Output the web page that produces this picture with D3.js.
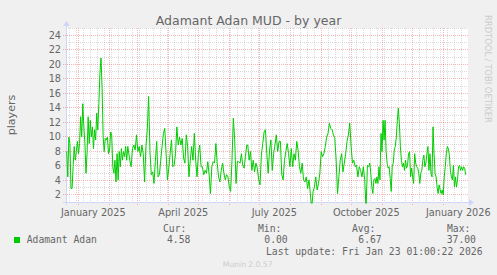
<!DOCTYPE html>
<html>
<head>
<meta charset="utf-8">
<script src="https://cdn.jsdelivr.net/npm/d3@7"></script>
<style>
  body { margin: 0; background: #f0f0f0; }
  text { fill: #666; }
</style>
</head>
<body>
<svg id="chart" width="497" height="275"></svg>
<script>
// players per day in four runs (start / end date of each run)
const segDates = [
  ["2024-12-20T10:00Z", "2025-02-19T12:00Z"],
  ["2025-02-21T12:00Z", "2025-06-18T12:00Z"],
  ["2025-06-19T12:00Z", "2025-10-18T12:00Z"],
  ["2025-10-19T12:00Z", "2026-01-23T09:00Z"]
];
const segA = [7.9,4.4,9.9,9.0,2.8,2.8,5.8,8.6,6.7,7.9,9.3,7.6,9.0,12.7,9.9,14.5,11.3,9.0,4.9,7.6,12.7,9.0,12.2,9.9,11.3,8.3,10.9,9.5,13.2,10.9,14.5,18.7,20.8,16.8,9.9,7.9,9.7,9.5,9.9,7.6,8.1,10.6,10.2,5.8,4.9,6.7,3.7,7.6,4.0,7.9,5.8,8.3,6.7,7.9,7.2,8.6,6.7,8.6];
const segB = [6.7,5.8,8.3,8.8,8.1,10.2,7.9,8.6,7.2,8.8,7.6,3.7,8.6,10.9,15.5,7.9,4.7,5.1,3.5,6.5,9.3,4.4,4.7,6.7,8.6,10.4,11.1,7.6,4.0,5.6,7.6,9.5,5.8,6.0,7.6,11.3,8.8,9.9,8.8,9.7,7.0,6.3,10.2,8.6,4.4,6.7,8.6,6.7,10.4,6.7,4.4,7.6,8.8,5.8,5.8,4.7,5.3,4.9,6.5,4.7,2.1,5.8,6.5,6.3,9.0,6.3,4.4,3.7,5.3,6.3,4.9,4.0,4.7,4.4,3.0,2.4,6.7,12.5,9.5,3.5,6.5,6.5,6.3,7.6,6.0,5.6,7.2,8.8];
const segC = [8.8,6.7,7.9,5.3,6.7,5.1,6.3,5.6,4.0,3.3,7.4,9.0,10.6,10.9,7.6,4.9,8.1,9.5,5.3,7.6,8.8,10.2,7.9,9.3,9.3,4.7,4.0,6.7,7.9,9.0,7.6,5.8,8.3,5.8,7.6,6.7,9.3,8.1,5.8,4.9,6.3,4.0,3.7,4.4,2.8,4.0,2.1,0,2.4,3.0,4.4,2.6,3.5,4.9,7.9,7.2,7.6,8.6,9.9,10.4,11.8,11.1,10.9,10.2,9.7,6.7,2.1,4.4,6.7,7.6,5.1,6.3,7.6,9.3,10.2,11.8,8.6,6.3,6.7,5.8,6.0,4.4,5.8,5.3,4.4,5.8,4.0,0,6.0,5.8];
const segD = [6.3,4.9,3.0,2.1,4.0,4.2,3.5,4.4,3.5,5.8,4.0,10.4,7.9,12.2,9.5,12.2,7.9,6.3,5.6,5.8,4.2,2.4,5.8,6.3,8.1,8.6,9.9,12.2,13.9,11.8,8.6,6.7,5.8,6.3,5.3,6.7,5.6,6.0,7.6,7.9,4.4,5.6,4.4,3.5,7.6,6.3,5.8,5.6,4.9,3.5,4.9,5.3,6.7,7.4,5.8,6.3,7.6,8.6,5.3,7.6,4.9,4.4,11.3,7.6,4.9,4.4,3.0,2.1,3.3,2.6,2.1,2.6,1.9,4.4,5.8,7.6,8.6,8.3,7.4,5.3,4.4,4.0,6.0,3.0,4.4,3.0,4.0,5.8,6.0,5.3,5.8,5.3,5.8,5.6,4.7];

const yTicks = [2,4,6,8,10,12,14,16,18,20,22,24];
const legendHeads = ["Cur:", "Min:", "Avg:", "Max:"];
const legendValues = ["4.58", "0.00", "6.67", "37.00"];
const seriesName = "Adamant Adan";
const lastUpdate = "Last update: Fri Jan 23 01:00:22 2026";

let svg = d3.select("#chart");
let font = "DejaVu Sans, sans-serif";
let mono = "DejaVu Sans Mono, monospace";

// plot area
let pLeft = 66, pRight = 468, pTop = 28, pBottom = 202.7;

let x = d3.scaleUtc()
  .domain([Date.UTC(2024, 11, 19, 17), Date.UTC(2026, 0, 23, 17)])
  .range([66, 466]);
let y = d3.scaleLinear().domain([0, 24]).range([208.8, 34.8]);

// build points
let points = [];
[segA, segB, segC, segD].forEach(function(seg, k){
  let t0 = new Date(segDates[k][0]).getTime();
  let t1 = new Date(segDates[k][1]).getTime();
  seg.forEach(function(v, i){
    points.push({t: new Date(t0 + (t1 - t0) * i / (seg.length - 1)), v: v});
  });
});

svg.append("rect").attr("x", pLeft).attr("y", pTop)
  .attr("width", pRight - pLeft).attr("height", pBottom - pTop).attr("fill", "#fff");

let minorCol = "rgba(143,143,143,0.32)";
let majorCol = "rgba(229,0,0,0.28)";

// horizontal grid
let g = svg.append("g").attr("shape-rendering", "crispEdges");
d3.range(1, 26).forEach(function(v){
  let yy = Math.round(y(v)) + 0.5;
  if (yy < pTop || yy > pBottom) return;
  let major = v % 2 == 0;
  g.append("line").attr("x1", major ? 63 : pLeft).attr("x2", pRight)
    .attr("y1", yy).attr("y2", yy)
    .attr("stroke", major ? majorCol : minorCol).attr("stroke-dasharray", "1,1");
});

// vertical grid: weeks (minor) and months (major)
let months = d3.utcMonth.range(x.invert(pLeft), x.invert(466));
let monthPx = months.map(d => Math.floor(x(d)));
let weeks = d3.utcMonday.range(x.invert(pLeft), x.invert(466));
weeks.forEach(function(d){
  let px = Math.floor(x(d));
  if (monthPx.indexOf(px) >= 0) return;
  g.append("line").attr("x1", px + 0.5).attr("x2", px + 0.5).attr("y1", pTop).attr("y2", 204)
    .attr("stroke", minorCol).attr("stroke-dasharray", "1,1");
});
months.forEach(function(d){
  let xx = Math.floor(x(d)) + 0.5;
  g.append("line").attr("x1", xx).attr("x2", xx).attr("y1", pTop).attr("y2", 205)
    .attr("stroke", majorCol).attr("stroke-dasharray", "1,1");
});

// axes with arrows
let axisCol = "#cfd6f8";
g.append("line").attr("x1", 63).attr("x2", 471).attr("y1", 202.5).attr("y2", 202.5).attr("stroke", axisCol);
g.append("line").attr("x1", 66.5).attr("x2", 66.5).attr("y1", 205).attr("y2", 24).attr("stroke", axisCol);
svg.append("path").attr("d", "M469,199L474,202.5L469,206Z").attr("fill", axisCol);
svg.append("path").attr("d", "M63,26L66.5,21L70,26Z").attr("fill", axisCol);

// data line
svg.append("clipPath").attr("id", "clip").append("rect")
  .attr("x", pLeft).attr("y", pTop).attr("width", pRight - pLeft).attr("height", pBottom - pTop + 0.8);
let line = d3.line().x(d => x(d.t)).y(d => y(d.v));
svg.append("path").datum(points).attr("d", line).attr("clip-path", "url(#clip)")
  .attr("fill", "none").attr("stroke", "#00cc00").attr("stroke-width", 1);

// y labels
yTicks.forEach(function(v){
  svg.append("text").attr("x", 61).attr("y", Math.round(y(v)) + 4)
    .attr("text-anchor", "end").style("font", "9.72px " + font).text(v);
});
svg.append("text").attr("transform", "translate(15,115) rotate(-90)")
  .attr("text-anchor", "middle").style("font", "11.1px " + font).text("players");

// x labels every 3 months, centred half a month after the line
let fmt = d3.utcFormat("%B %Y");
months.filter(d => d.getUTCMonth() % 3 == 0).forEach(function(d){
  let mid = new Date(d.getTime() + 15 * 86400000);
  svg.append("text").attr("x", x(mid)).attr("y", 215.5)
    .attr("text-anchor", "middle").style("font", "9.72px " + font).text(fmt(d));
});

// title
svg.append("text").attr("x", 248.5).attr("y", 25).attr("text-anchor", "middle")
  .style("font", "12.5px " + font).text("Adamant Adan MUD - by year");

// side watermark
svg.append("text").attr("transform", "translate(485,15) rotate(90)")
  .style("font", "8.4px " + font).style("fill", "#ccc").text("RRDTOOL / TOBI OETIKER");

// legend
let headX = [163, 258, 352, 447];
let valX = [167, 264.3, 358.3, 446.7];
legendHeads.forEach(function(h, i){
  svg.append("text").attr("x", headX[i]).attr("y", 231.5).style("font", "9.72px " + mono).text(h);
  svg.append("text").attr("x", valX[i]).attr("y", 242.8).style("font", "9.72px " + mono).text(legendValues[i]);
});
svg.append("rect").attr("x", 14).attr("y", 237).attr("width", 6).attr("height", 6).attr("fill", "#00cc00");
svg.append("text").attr("x", 26.7).attr("y", 242.8).style("font", "9.72px " + mono).text(seriesName);
svg.append("text").attr("x", 482.5).attr("y", 254.5).attr("text-anchor", "end")
  .style("font", "9.72px " + mono).text(lastUpdate);
svg.append("text").attr("x", 247.7).attr("y", 266.5).attr("text-anchor", "middle")
  .style("font", "7.6px " + font).style("fill", "#ccc").text("Munin 2.0.57");
</script>
</body>
</html>
